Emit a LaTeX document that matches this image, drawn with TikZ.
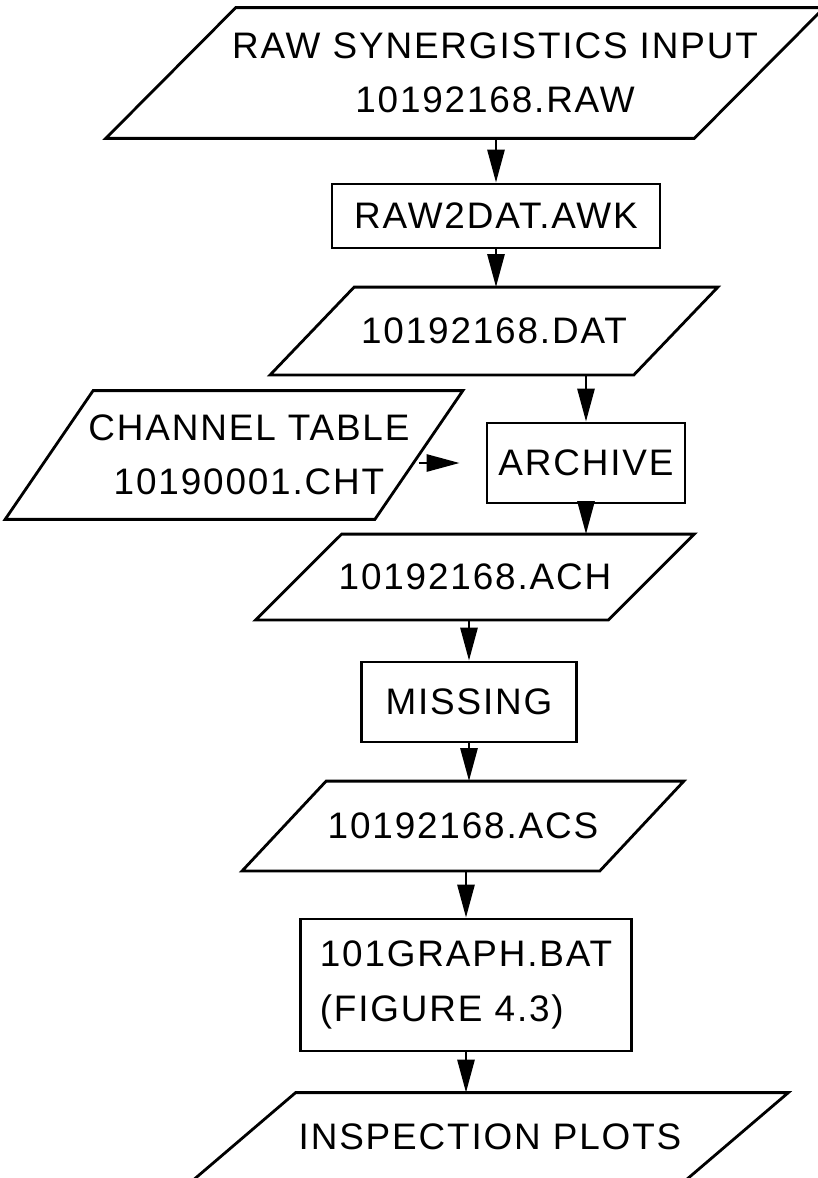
\documentclass[tikz,border=0pt]{standalone}
\usepackage{fontspec}
\setmainfont[LetterSpace=5]{Liberation Sans}
\usetikzlibrary{arrows.meta,calc}

\begin{document}
\begin{tikzpicture}[x=0.02cm, y=-0.02cm, >={Triangle[length=0.66cm,width=0.34cm]},
    line width=1.6pt,
    lbl/.style={inner sep=0pt, align=center, font=\fontsize{21}{31}\selectfont},
    proc/.style={lbl, draw},
    io/.style={lbl}]
  \useasboundingbox (0,0) rectangle (818,1178);
  % data sets (parallelograms) and programs (boxes)
  \node[io, minimum width=11.2cm, minimum height=2.56cm] (raw) at (465,73)
    {\hspace*{1.2cm}RAW SYNERGISTICS INPUT\\\hspace*{1.2cm}10192168.RAW};
  \node[proc, minimum width=6.56cm, minimum height=1.28cm] (awk) at (496,216) {RAW2DAT.AWK};
  \node[io, minimum width=7.22cm, minimum height=1.7cm] (dat) at (494,331) {10192168.DAT};
  \node[io, minimum width=7.34cm, minimum height=2.52cm] (chan) at (234,455)
    {\hspace*{0.6cm}CHANNEL TABLE\\\hspace*{0.6cm}10190001.CHT};
  \node[proc, minimum width=3.96cm, minimum height=1.6cm] (arch) at (586,463) {ARCHIVE};
  \node[io, minimum width=7cm, minimum height=1.66cm] (ach) at (475,577) {10192168.ACH};
  \node[proc, minimum width=4.3cm, minimum height=1.6cm] (miss) at (469,702) {MISSING};
  \node[io, minimum width=7.1cm, minimum height=1.74cm] (acs) at (463,826) {10192168.ACS};
  \node[proc, minimum width=6.62cm, minimum height=2.64cm, align=left] (graph) at (466,985) {101GRAPH.BAT\\(FIGURE 4.3)};
  \node[io, minimum width=9.8cm, minimum height=1.72cm] (plots) at (490,1137) {INSPECTION PLOTS};
  % parallelogram outlines
  \foreach \n/\s in {raw/65, dat/42, chan/44, ach/43, acs/42, plots/52}
    \draw ($(\n.north west)+(\s,0)$) -- ($(\n.north east)+(\s,0)$)
      -- ($(\n.south east)-(\s,0)$) -- ($(\n.south west)-(\s,0)$) -- cycle;
  % flow
  \coordinate (chantip) at ($(arch.west)+(-26,0)$);
  \draw[->] (raw.south -| awk.north) -- (awk.north);
  \draw[->] (awk.south) -- (awk.south |- dat.north);
  \draw[->] (dat.south -| arch.north) -- (arch.north);
  \draw[->] (chantip -| chan.east) -- (chantip);
  \draw[->] (arch.south) -- (arch.south |- ach.north);
  \draw[->] (ach.south -| miss.north) -- (miss.north);
  \draw[->] (miss.south) -- (miss.south |- acs.north);
  \draw[->] (acs.south -| graph.north) -- (graph.north);
  \draw[->] (graph.south) -- (graph.south |- plots.north);
\end{tikzpicture}
\end{document}
